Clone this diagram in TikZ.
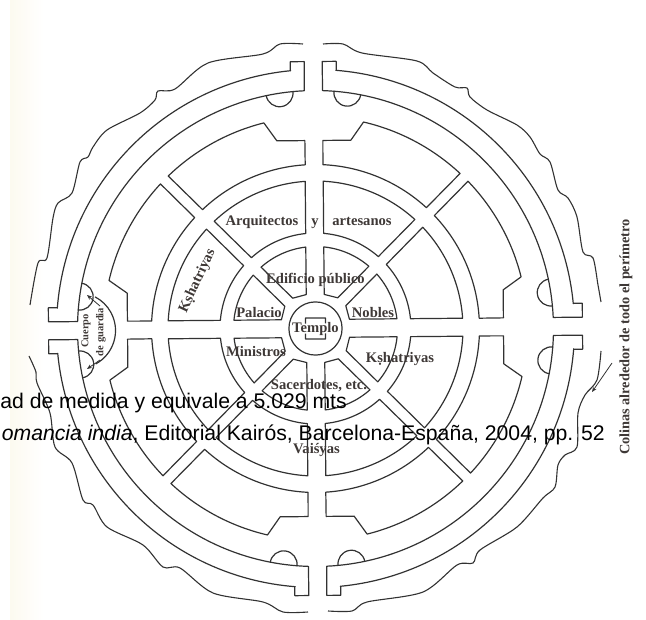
\documentclass[tikz,border=0pt]{standalone}
\usepackage{xcolor}
\usepackage{fontspec}
\setmainfont{Liberation Serif}
\newfontfamily\captionfont{Liberation Sans}
\usetikzlibrary{arrows.meta}
\definecolor{inkline}{RGB}{50, 50, 50}
\definecolor{inktext}{RGB}{62, 56, 54}
\definecolor{papertone}{RGB}{252, 250, 240}

% one quarter of the plan, mirrored for the other three
\newcommand{\planquadrant}{
  \draw[wall] (9,267) -- (23,267) -- (23,258) -- (85:259) arc[start angle=85, end angle=5, radius=259] -- (258,23) -- (267,23) -- (267,9) -- (238,9) -- (2.2:238) arc[start angle=2.2, end angle=87.8, radius=238] -- cycle;
  \draw[wall] (9,188) -- (37,188) -- (76.4:212) arc[start angle=76.4, end angle=46.5, radius=212] -- (46.96:164) arc[start angle=46.96, end angle=86.9, radius=164] -- cycle;
  \draw[wall] (188,9) -- (188,37) -- (13.6:212) arc[start angle=13.6, end angle=43.5, radius=212] -- (43.04:164) arc[start angle=43.04, end angle=3.1, radius=164] -- cycle;
  \draw[wall] (86.5:147.5) arc[start angle=86.5, end angle=47.15, radius=147.5] -- (48.35:95.5) arc[start angle=48.35, end angle=84.6, radius=95.5] -- cycle;
  \draw[wall] (3.5:147.5) arc[start angle=3.5, end angle=42.85, radius=147.5] -- (41.65:95.5) arc[start angle=41.65, end angle=5.4, radius=95.5] -- cycle;
  \draw[wall] (83.7:82) arc[start angle=83.7, end angle=48.9, radius=82] -- (22.5,30.5) -- (9,34) -- cycle;
  \draw[wall] (6.3:82) arc[start angle=6.3, end angle=41.1, radius=82] -- (30.5,22.5) -- (34,9) -- cycle;
  \draw[wall] (81.8:238) ++(171.8:13.5) arc[start angle=171.8, end angle=351.8, radius=13.5];
  \draw[wall] (8.2:238) ++(98.2:13.5) arc[start angle=98.2, end angle=278.2, radius=13.5];
}

\begin{document}
\begin{tikzpicture}[
  x=1pt, y=-1pt,
  wall/.style={draw=inkline, line width=1.2pt, line join=round},
  hill/.style={draw=inkline, line width=1.1pt},
  pointer/.style={-{Stealth[length=5pt, width=4pt]}, draw=inkline, line width=.8pt},
  place/.style={font=\bfseries\fontsize{14.6}{14.6}\selectfont, text=inktext, inner sep=0pt, anchor=base},
  guard/.style={font=\bfseries\fontsize{10.5}{10.5}\selectfont, text=inktext, inner sep=0pt, rotate=90},
  caption/.style={font=\captionfont\fontsize{21.2}{21.2}\selectfont, text=black, inner sep=0pt, anchor=base east}
]
  \useasboundingbox (0,0) rectangle (646,620);
  \fill[left color=papertone, right color=white] (10,0) rectangle (44,620);

  % plan
  \begin{scope}[shift={(315.5,328.5)}, rotate=0.5]
    \foreach \sx/\sy in {1/1, -1/1, 1/-1, -1/-1} {
      \begin{scope}[xscale=\sx, yscale=\sy]
        \planquadrant
      \end{scope}
    }
    \draw[wall] (0,0) circle[radius=26.6];
    \draw[wall] (-10,5) -- (-10,10.5) -- (10,10.5) -- (10,5);
    \draw[wall] (-10,-5) -- (-10,-10.5) -- (10,-10.5) -- (10,-5);
    \draw[wall] (-238,0) ++(62:38) arc[start angle=62, end angle=-62, radius=38];
  \end{scope}

  % colinas
  \draw[hill] plot[smooth, tension=.5] coordinates {(323,44) (343,44) (362,53) (417,61) (433,73) (455,87) (467,88) (470,97) (487,110) (517,125) (530,137) (540,154) (550,162) (558,190) (568,198) (577,217) (583,252) (593,258) (598,285) (601,302)};
  \draw[hill] plot[smooth, tension=.5] coordinates {(303,44) (280,44) (263,54) (208,63) (175,89) (158,91) (155,100) (140,113) (107,130) (93,147) (88,157) (80,162) (72,193) (58,203) (53,218) (47,258) (38,263) (30,305)};
  \draw[hill] plot[smooth, tension=.5] coordinates {(29,356) (36,372) (37,383) (50,413) (55,447) (72,463) (83,500) (93,505) (107,527) (143,545) (163,567) (180,568) (213,593) (263,602) (283,612) (308,612)};
  \draw[hill] plot[smooth, tension=.5] coordinates {(328,611) (352,611) (367,602) (423,592) (457,565) (473,563) (480,550) (517,527) (543,498) (555,487) (558,465) (565,455) (577,447) (578,413) (585,395) (597,380) (601,351)};

  \coordinate (colinastail) at (612,363);
  \coordinate (colinastip) at (592,392);
  \draw[pointer] (colinastail) -- (colinastip);
  \coordinate (guardtail) at (100,306);
  \coordinate (guardtop) at (87,295);
  \coordinate (guardtailb) at (100,360);
  \coordinate (guardbottom) at (87,369);
  \draw[pointer] (guardtail) -- (guardtop);
  \draw[pointer] (guardtailb) -- (guardbottom);

  % nombres
  \node[place] (arquitectos) at (262,225.5) {Arquitectos};
  \node[place] (ye) at (315,225.5) {y};
  \node[place] (artesanos) at (362,225.5) {artesanos};
  \node[place, anchor=center, rotate=65] (kshatriyasa) at (197.5,281) {Kṣhatriyas};
  \node[place] (edificio) at (315.5,284) {Edificio público};
  \node[place] (palacio) at (259,318) {Palacio};
  \node[place] (nobles) at (373,317.3) {Nobles};
  \node[place] (templo) at (315.5,333) {Templo};
  \node[place] (ministros) at (256,357) {Ministros};
  \node[place] (kshatriyasb) at (400,363) {Kṣhatriyas};
  \node[place] (sacerdotes) at (319,390) {Sacerdotes, etc.};
  \node[place] (vaisyas) at (316.5,454) {Vaiśyas};
  \node[guard] (cuerpo) at (86,331) {Cuerpo};
  \node[guard] (deguardia) at (101,332) {de guardia};
  \node[place, anchor=center, font=\bfseries\fontsize{14.3}{14.3}\selectfont, rotate=90] (colinas) at (626,337) {Colinas alrededor de todo el perímetro};

  % texto encima
  \node[caption] (medida) at (347,409) {ad de medida y equivale a 5.029 mts};
  \node[caption] (fuente) at (605,441) {\itshape omancia india\upshape, Editorial Kairós, Barcelona-España, 2004, pp. 52};
\end{tikzpicture}
\end{document}
